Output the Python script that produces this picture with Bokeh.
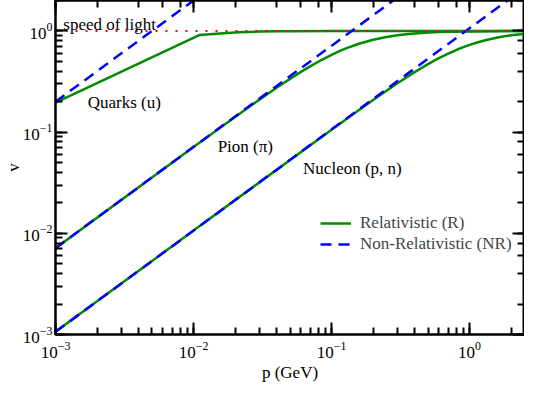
from bokeh.plotting import figure
from bokeh.models import LogAxis, LogTicker, Legend, LegendItem, Label, CustomJSTickFormatter
from bokeh.embed import file_html
from bokeh.resources import INLINE

# ---- data (momentum p in GeV, speed v in units of c) ----
quark_r_p = [0.001, 0.011, 0.021, 0.031, 0.041, 0.051, 0.101, 0.201, 0.501, 1.001, 2.5]
quark_r_v = [0.196, 0.910, 0.973, 0.9873, 0.9926, 0.9952, 0.9988, 0.9997, 0.99995, 0.99999, 1.0]
quark_nr_p = [0.001, 0.01]
quark_nr_v = [0.2, 2.0]

pion_r_p = [0.001, 0.01, 0.02, 0.03, 0.04, 0.05, 0.06, 0.07, 0.085, 0.1, 0.115, 0.13, 0.16,
            0.2, 0.25, 0.3, 0.35, 0.4, 0.5, 0.6, 0.7, 1.0, 1.5, 2.5]
pion_r_v = [0.00714, 0.0712, 0.1414, 0.2095, 0.2747, 0.3363, 0.3939, 0.4472, 0.5190, 0.5812,
            0.6347, 0.6805, 0.7526, 0.8192, 0.8725, 0.9062, 0.9285, 0.9439, 0.9630, 0.9738,
            0.9806, 0.9904, 0.9957, 0.9984]
pion_nr_p = [0.001, 0.28]
pion_nr_v = [0.00714, 2.0]

nucleon_r_p = [0.001, 0.01, 0.1, 0.15, 0.2, 0.25, 0.3, 0.4, 0.5, 0.6, 0.7, 0.8, 0.9, 1.0,
               1.15, 1.3, 1.6, 1.8, 2.0, 2.25, 2.5]
nucleon_r_v = [0.001064, 0.01064, 0.1058, 0.1576, 0.2081, 0.2570, 0.3040, 0.3916, 0.4696,
               0.5380, 0.5973, 0.6481, 0.6916, 0.7286, 0.7743, 0.8104, 0.8622, 0.8864,
               0.9050, 0.9227, 0.9360]
nucleon_nr_p = [0.001, 1.88]
nucleon_nr_v = [0.001064, 2.0]

light_p = [0.001, 2.5]
light_v = [1.0, 1.0]

labels = ["speed of light", "Quarks (u)", "Pion (\u03c0)", "Nucleon (p, n)"]
label_p = [0.00114, 0.00171, 0.01496, 0.0622]
label_v = [1.17, 0.198, 0.0728, 0.0437]

legend_labels = ["Relativistic (R)", "Non-Relativistic (NR)"]

FONT = "Liberation Serif"
GREEN = "#008B00"
BLUE = "#0000FF"
RED = "#FF0000"

p = figure(width=524, height=384, x_axis_type="log", y_axis_type="log",
           x_range=(1e-3, 2.5), y_range=(1e-3, 2.0),
           output_backend="svg", toolbar_location=None,
           min_border_left=49, min_border_right=0, min_border_top=0, min_border_bottom=48,
           x_axis_label="p (GeV)", y_axis_label="v")
p.grid.visible = False
p.outline_line_color = "black"
p.outline_line_width = 2
p.background_fill_color = "white"
p.border_fill_color = "white"

def style_axis(ax, show_labels=True):
    ax.axis_line_width = 2
    ax.axis_line_color = "black"
    ax.major_tick_in = 12
    ax.major_tick_out = 0
    ax.minor_tick_in = 7
    ax.minor_tick_out = 0
    ax.major_tick_line_width = 2
    ax.minor_tick_line_width = 2
    ax.major_tick_line_color = "black"
    ax.minor_tick_line_color = "black"
    if show_labels:
        ax.major_label_text_font = FONT
        ax.major_label_text_font_size = "17px"
        ax.major_label_text_color = "black"
        ax.major_label_text_line_height = 1.0
        ax.axis_label_text_font = FONT
        ax.axis_label_text_font_size = "17px"
        ax.axis_label_text_font_style = "normal"
        ax.axis_label_text_color = "black"
        ax.axis_label_text_line_height = 1.0
    else:
        ax.formatter = CustomJSTickFormatter(code="return ''")
        ax.major_label_text_font_size = "1px"
        ax.major_label_standoff = 0
        ax.axis_label_standoff = 0

for ax in p.xaxis:
    style_axis(ax)
    ax.major_label_standoff = 7
    ax.axis_label_standoff = 2
for ax in p.yaxis:
    style_axis(ax)
    ax.major_label_standoff = 3
    ax.axis_label_standoff = -3

top = LogAxis(ticker=LogTicker())
style_axis(top, show_labels=False)
right = LogAxis(ticker=LogTicker())
style_axis(right, show_labels=False)
p.add_layout(top, "above")
p.add_layout(right, "right")

# relativistic curves
g1 = p.line(quark_r_p, quark_r_v, line_color=GREEN, line_width=2.5)
p.line(pion_r_p, pion_r_v, line_color=GREEN, line_width=2.5)
p.line(nucleon_r_p, nucleon_r_v, line_color=GREEN, line_width=2.5)
# non-relativistic curves
b1 = p.line(quark_nr_p, quark_nr_v, line_color=BLUE, line_width=2.5, line_dash="11 7")
p.line(pion_nr_p, pion_nr_v, line_color=BLUE, line_width=2.5, line_dash="11 7")
p.line(nucleon_nr_p, nucleon_nr_v, line_color=BLUE, line_width=2.5, line_dash="11 7")
# speed of light
p.line(light_p, light_v, line_color=RED, line_width=2, line_dash="2 8")

for t, x, y in zip(labels, label_p, label_v):
    p.add_layout(Label(x=x, y=y, text=t, text_font=FONT, text_font_size="17px",
                       text_color="black", text_baseline="alphabetic", text_align="left"))

legend = Legend(items=[LegendItem(label=legend_labels[0], renderers=[g1]),
                       LegendItem(label=legend_labels[1], renderers=[b1])],
                location=(265, 80), padding=0, margin=0, spacing=1,
                glyph_width=31, glyph_height=20, label_height=20, label_standoff=9,
                label_text_font=FONT, label_text_font_size="17px",
                border_line_color=None, background_fill_alpha=0)
p.add_layout(legend, "center")

open("out.html", "w").write(file_html(p, INLINE))
